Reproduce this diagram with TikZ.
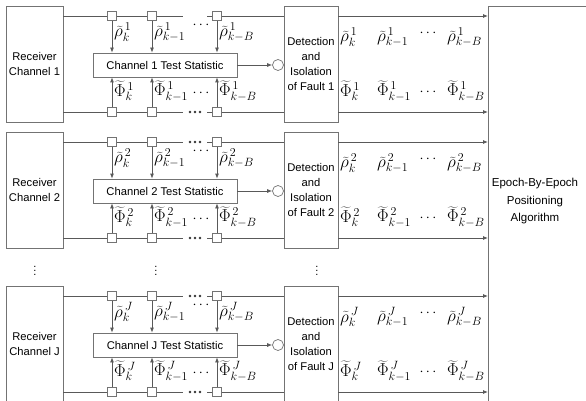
\documentclass[tikz,border=0pt]{standalone}
\usepackage{fontspec}
\setmainfont{Liberation Sans}
\usetikzlibrary{arrows.meta}
\newcommand{\rt}[2]{\widetilde{\rho}^{\mkern3mu#1}_{#2}}
\newcommand{\pt}[2]{\widetilde{\Phi}^{\mkern3mu#1}_{#2}}
\begin{document}
\begin{tikzpicture}[x=1pt,y=-1pt,
  box/.style={draw=black!55, line width=0.8pt, inner sep=0pt},
  ln/.style={draw=black!65, line width=0.8pt},
  arr/.style={ln, -{Latex[length=5pt,width=4pt]}},
  sqbox/.style={draw=black!55, fill=white, line width=0.7pt, minimum size=9pt, inner sep=0pt},
  lab/.style={font=\fontsize{11.2}{15}\selectfont, align=center},
  mth/.style={font=\fontsize{18}{18}\selectfont, inner sep=0pt, anchor=west},
  dotsnode/.style={font=\fontsize{15}{15}\selectfont, inner sep=0pt},
  vd/.style={font=\fontsize{11}{11}\selectfont, inner sep=0pt},
]
\useasboundingbox (0,0) rectangle (586,401);
\clip (0,0) rectangle (586,401);

% Epoch box (extends past the right and bottom edges)
\node[box, anchor=north west, minimum width=200pt, minimum height=500pt] (ep) at (488,6) {};
\node[lab, font=\fontsize{11.5}{17.5}\selectfont] (eptxt) at (535,201.5) {Epoch-By-Epoch\\Positioning\\Algorithm};

\foreach \T/\n/\topdots in {16/1/0, 142/2/1, 296/J/1} {
  % boxes
  \node[box, lab, minimum width=57pt, minimum height=116pt] (rc\n) at (34.5,\T+48) {Receiver\\Channel \n};
  \node[box, lab, minimum width=54pt, minimum height=116pt] (det\n) at (311,\T+48) {Detection\\and\\Isolation\\of Fault \n};
  \node[box, lab, minimum width=144pt, minimum height=24pt] (ts\n) at (165,\T+49) {Channel \n\ Test Statistic};
  \node[circle, draw=black!55, line width=0.7pt, minimum size=11pt, inner sep=0pt] (c\n) at (278,\T+49) {};
  % squares
  \node[sqbox] (sa\n) at (112,\T) {};
  \node[sqbox] (sb\n) at (152,\T) {};
  \node[sqbox] (sc\n) at (217,\T) {};
  \node[sqbox] (sd\n) at (112,\T+96) {};
  \node[sqbox] (se\n) at (152,\T+96) {};
  \node[sqbox] (sf\n) at (217,\T+96) {};
  \coordinate (ga\n) at (183,\T);
  \coordinate (gb\n) at (207,\T);
  \coordinate (gc\n) at (183,\T+96);
  \coordinate (gd\n) at (207,\T+96);
  % horizontal lines
  \draw[ln] (rc\n.east |- sa\n) -- (sa\n.west);
  \draw[ln] (sa\n.east) -- (sb\n.west);
  \draw[ln] (sb\n.east) -- (ga\n);
  \draw[ln] (gb\n) -- (sc\n.west);
  \draw[ln] (sc\n.east) -- (det\n.west |- sc\n);
  \draw[ln] (rc\n.east |- sd\n) -- (sd\n.west);
  \draw[ln] (sd\n.east) -- (se\n.west);
  \draw[ln] (se\n.east) -- (gc\n);
  \draw[ln] (gd\n) -- (sf\n.west);
  \draw[ln] (sf\n.east) -- (det\n.west |- sf\n);
  % gap dots
  \foreach \dx in {-5,0,5} {
    \fill[black!80] (195+\dx,\T+96) circle (1.3pt);
  }
  \ifnum\topdots=1
    \foreach \dx in {-5,0,5} {
      \fill[black!80] (195+\dx,\T) circle (1.3pt);
    }
  \fi
  % vertical arrows
  \draw[arr] (sa\n.south) -- (sa\n.south |- ts\n.north);
  \draw[arr] (sb\n.south) -- (sb\n.south |- ts\n.north);
  \draw[arr] (sc\n.south) -- (sc\n.south |- ts\n.north);
  \draw[arr] (sd\n.north) -- (sd\n.north |- ts\n.south);
  \draw[arr] (se\n.north) -- (se\n.north |- ts\n.south);
  \draw[arr] (sf\n.north) -- (sf\n.north |- ts\n.south);
  \draw[arr] (ts\n.east) -- (c\n.west);
  % outputs
  \draw[arr] (det\n.east |- sa\n) -- (ep.west |- sa\n);
  \draw[arr] (det\n.east |- sd\n) -- (ep.west |- sd\n);
  % labels near arrows
  \node[mth] (lr1\n) at (114,\T+16) {$\rt{\n}{k}$};
  \node[mth] (lr2\n) at (154,\T+16) {$\rt{\n}{k-1}$};
  \node[dotsnode] (lr3\n) at (201,\T+9) {$\cdots$};
  \node[mth] (lr4\n) at (219,\T+16) {$\rt{\n}{k-B}$};
  \node[mth] (lp1\n) at (114,\T+75) {$\pt{\n}{k}$};
  \node[mth] (lp2\n) at (154,\T+75) {$\pt{\n}{k-1}$};
  \node[dotsnode] (lp3\n) at (201,\T+77) {$\cdots$};
  \node[mth] (lp4\n) at (219,\T+75) {$\pt{\n}{k-B}$};
  % output labels
  \node[mth] (or1\n) at (340,\T+21) {$\rt{\n}{k}$};
  \node[mth] (or2\n) at (377,\T+21) {$\rt{\n}{k-1}$};
  \node[dotsnode] (or3\n) at (428,\T+17) {$\cdots$};
  \node[mth] (or4\n) at (447,\T+21) {$\rt{\n}{k-B}$};
  \node[mth] (op1\n) at (340,\T+75) {$\pt{\n}{k}$};
  \node[mth] (op2\n) at (377,\T+75) {$\pt{\n}{k-1}$};
  \node[dotsnode] (op3\n) at (428,\T+76) {$\cdots$};
  \node[mth] (op4\n) at (447,\T+75) {$\pt{\n}{k-B}$};
}
% vertical ellipses
\node[vd] (v1) at (35,268) {$\vdots$};
\node[vd] (v2) at (156,268) {$\vdots$};
\node[vd] (v3) at (317,268) {$\vdots$};
\end{tikzpicture}
\end{document}
